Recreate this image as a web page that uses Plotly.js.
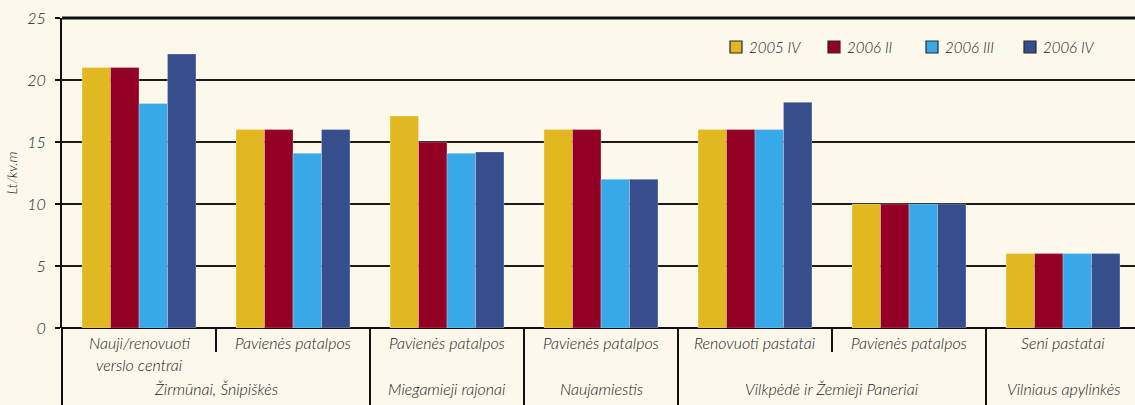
<!DOCTYPE html>
<html>
<head>
<meta charset="utf-8">
<script src="https://cdn.plot.ly/plotly-3.0.1.min.js"></script>
<style>
  html, body { margin: 0; padding: 0; background: #FCF8EC; }
  #chart { width: 1135px; height: 405px; }
</style>
</head>
<body>
<div id="chart"></div>
<script>
// Office rent levels by district, Lt per square metre
const positions = [0, 1, 2, 3, 4, 5, 6];
const subLabels = [
  ["Nauji/renovuoti", "verslo centrai"],
  ["Pavienės patalpos"],
  ["Pavienės patalpos"],
  ["Pavienės patalpos"],
  ["Renovuoti pastatai"],
  ["Pavienės patalpos"],
  ["Seni pastatai"]
];
// District names and the position they are centred on
const districtLabels = ["Žirmūnai, Šnipiškės", "Miegamieji rajonai", "Naujamiestis", "Vilkpėdė ir Žemieji Paneriai", "Vilniaus apylinkės"];
const districtCenters = [0.5, 2, 3, 4.5, 6];
// Separators: short ones split a district, full ones split districts
const shortDividers = [0.5, 4.5];
const fullDividers = [1.5, 2.5, 3.5, 5.5];

const seriesNames = ["2005 IV", "2006 II", "2006 III", "2006 IV"];
const s2005IV  = [21, 16, 17.1, 16, 16, 10, 6];
const s2006II  = [21, 16, 15, 16, 16, 10, 6];
const s2006III = [18.1, 14.1, 14.1, 12, 16, 10, 6];
const s2006IV  = [22.1, 16, 14.2, 12, 18.2, 10, 6];
const yTicks = [0, 5, 10, 15, 20, 25];

const seriesValues = [s2005IV, s2006II, s2006III, s2006IV];
const colors = ["#E2B820", "#930023", "#38A8E8", "#364E8C"];

const FONT = "Lato, 'Open Sans', sans-serif";
const TEXT = "#1c1c1c";
const WEIGHT = 300;

const traces = seriesValues.map((vals, i) => ({
  type: "bar",
  name: seriesNames[i],
  x: positions,
  y: vals,
  marker: { color: colors[i], line: { color: "rgba(255,255,255,0.35)", width: 0.8 } },
  showlegend: false,
  hoverinfo: "y+name"
}));

const W = 1135, H = 405;
const M = { l: 62, r: 0, t: 18, b: 77 };
const plotW = W - M.l - M.r, plotH = H - M.t - M.b;
const px2paperX = px => (px - M.l) / plotW;
const px2paperY = py => (H - M.b - py) / plotH;

const shapes = [];
const annotations = [];

// top border line
shapes.push({ type: "line", xref: "paper", yref: "paper", x0: 0, x1: 1, y0: 1, y1: 1,
  line: { color: "#111", width: 3 } });
// left axis continues down through the label area
shapes.push({ type: "line", xref: "paper", yref: "paper", x0: 0, x1: 0, y0: 0, y1: px2paperY(H),
  line: { color: "#111", width: 2 } });
shortDividers.forEach(x => shapes.push({ type: "line", xref: "x", yref: "paper",
  x0: x, x1: x, y0: 0, y1: px2paperY(352), line: { color: "#111", width: 2 } }));
fullDividers.forEach(x => shapes.push({ type: "line", xref: "x", yref: "paper",
  x0: x, x1: x, y0: 0, y1: px2paperY(H), line: { color: "#111", width: 2 } }));

const labelFont = { family: FONT, size: 16, color: TEXT, style: "italic", weight: WEIGHT };
const lineY = [342, 364];
subLabels.forEach((lines, i) => {
  lines.forEach((t, j) => annotations.push({
    xref: "x", yref: "paper", x: positions[i], y: px2paperY(lineY[j]),
    text: t, showarrow: false, xanchor: "center", yanchor: "middle", font: labelFont
  }));
});
districtLabels.forEach((t, i) => annotations.push({
  xref: "x", yref: "paper", x: districtCenters[i], y: px2paperY(388),
  text: t, showarrow: false, xanchor: "center", yanchor: "middle", font: labelFont
}));

// legend row
const legendX = [730, 828, 926, 1024];
seriesNames.forEach((n, i) => {
  shapes.push({ type: "rect", xref: "paper", yref: "paper",
    x0: px2paperX(legendX[i]), x1: px2paperX(legendX[i] + 12),
    y0: px2paperY(53), y1: px2paperY(41),
    fillcolor: colors[i], line: { color: "#2a2a2a", width: 1.2 } });
  annotations.push({ xref: "paper", yref: "paper", x: px2paperX(legendX[i] + 17), y: px2paperY(47),
    text: n, showarrow: false, xanchor: "left", yanchor: "middle",
    font: { family: FONT, size: 15, color: TEXT, style: "italic", weight: WEIGHT } });
});

const layout = {
  width: W, height: H,
  margin: M,
  paper_bgcolor: "#FCF8EC",
  plot_bgcolor: "#FCF8EC",
  barmode: "group",
  bargap: 0.26,
  bargroupgap: 0,
  showlegend: false,
  xaxis: {
    range: [-0.5, -0.5 + plotW / 154],
    showticklabels: false, ticks: "", showgrid: false, zeroline: false, showline: false,
    fixedrange: true
  },
  yaxis: {
    range: [0, 25],
    tickvals: yTicks,
    ticks: "outside", ticklen: 5, tickwidth: 2, tickcolor: "#111",
    ticklabelstandoff: 6,
    showgrid: true, gridcolor: "#1a1a1a", gridwidth: 2,
    zeroline: true, zerolinecolor: "#111", zerolinewidth: 2,
    showline: true, linecolor: "#111", linewidth: 2,
    tickfont: { family: FONT, size: 16, color: TEXT, style: "italic", weight: WEIGHT },
    title: { text: "Lt/kv.m", standoff: 6, font: { family: FONT, size: 14, color: TEXT, style: "italic", weight: WEIGHT } },
    automargin: false,
    fixedrange: true
  },
  shapes: shapes,
  annotations: annotations
};

Plotly.newPlot("chart", traces, layout, { displayModeBar: false, staticPlot: true });
</script>
</body>
</html>
